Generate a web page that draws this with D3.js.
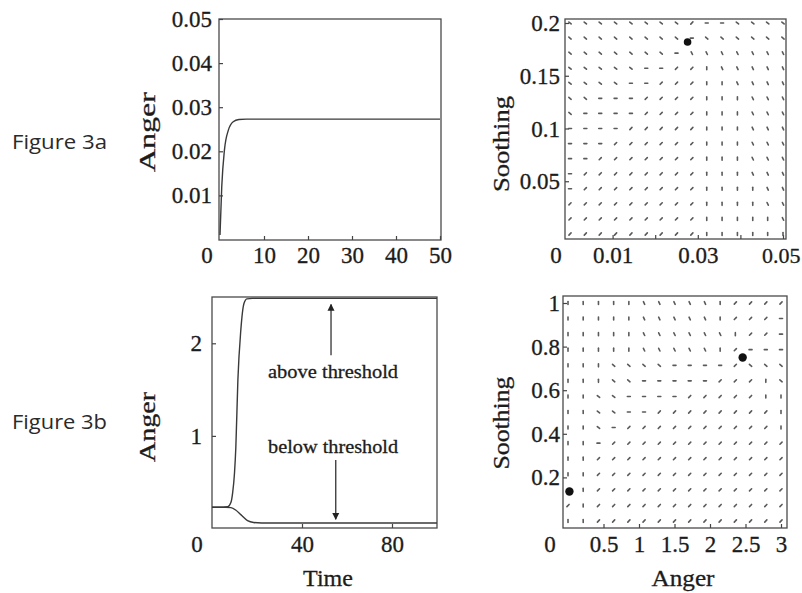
<!DOCTYPE html>
<html lang="en">
<head>
    <meta charset="UTF-8">
    <title>Figure 3</title>
    <script src="https://d3js.org/d3.v7.min.js"></script>
    <style>
        body { margin: 0; background: #fff; }
        svg text { fill: #1c1c1c; }
        .serif, .serif text { font-family: "Liberation Serif", "Times New Roman", Times, serif; stroke: #1c1c1c; stroke-width: 0.3px; }
        .fig { font-family: "Open Sans", "Noto Sans", sans-serif; fill: #2a2a2a; }
    </style>
</head>
<body>
    <div id="chart"></div>
    <script>
        // ---- data ----
        const timeA = [0, 0.4, 1.0, 1.9, 3.0, 4.3, 6, 50];
        const angerA = [0.001, 0.012, 0.0202, 0.0248, 0.0267, 0.0272, 0.0273, 0.0273];

        const timeAbove = [0, 5, 7, 8.4, 9.2, 10, 10.6, 11.5, 12.8, 14.2, 15.5, 18, 100];
        const angerAbove = [0.23, 0.23, 0.235, 0.28, 0.39, 0.6, 0.88, 1.6, 2.14, 2.43, 2.48, 2.485, 2.485];
        const timeBelow = [0, 6, 8.4, 10.5, 12.8, 15.8, 18.5, 22, 100];
        const angerBelow = [0.23, 0.23, 0.225, 0.2, 0.15, 0.085, 0.065, 0.06, 0.06];

        // grid of the direction fields
        const gridAngerB = [0, 0.0036, 0.0071, 0.0107, 0.0143, 0.0179, 0.0214, 0.025, 0.0286, 0.0321, 0.0357, 0.0393, 0.0429, 0.0464, 0.05];
        const gridSoothB = [0.2, 0.1857, 0.1714, 0.1571, 0.1429, 0.1286, 0.1143, 0.1, 0.0857, 0.0714, 0.0571, 0.0429, 0.0286, 0.0143, 0];
        const gridAngerD = [0, 0.214, 0.429, 0.643, 0.857, 1.071, 1.286, 1.5, 1.714, 1.929, 2.143, 2.357, 2.571, 2.786, 3];
        const gridSoothD = [1, 0.929, 0.857, 0.786, 0.714, 0.643, 0.571, 0.5, 0.429, 0.357, 0.286, 0.214, 0.143, 0.071, 0];

        // h = flat, d = down-right, s = steep down-right, v = vertical, u = up-right, . = none
        const fieldB = [
            "dddddddduhhdddd",
            "ddddddddhdddddd",
            "dddddddhsssssss",
            "dddddhhuuvsssss",
            "ddddhhuuuvvssss",
            "ddhhhuuuuvvvsss",
            "dhhhhuuuuvvvsss",
            "hhhhuuuuuvvvsss",
            "hhhuuuuuuvvvsss",
            "hhuuuuuuuvvvsss",
            "huuuuuuuuvvvsss",
            "huuuuuuuuvvvvss",
            "uuuuuuuuuvvvvss",
            "uuuuuuuuuvvvvvs",
            "uuuuuuuuuvvvvvv"
        ];
        const fieldD = [
            "vvvvvsssssvuuuu",
            "vvvvvsssssvuuuh",
            "vvvvvssssssvuuh",
            "vvvvvsssssvuhhh",
            "vvvddddhhhhuddd",
            "vvvddhhhhhuuuvd",
            "vvddhhhhuuuuuvv",
            "vvddhhuuuuuuuuv",
            "vvdhuuuuuuuuuuv",
            "vvhuuuuuuuuuuuu",
            "vvuuuuuuuuuuuuu",
            "vvuuuuuuuuuuuuu",
            ".vuuuuuuuuuuuuu",
            "uvuuuuuuuuuuuuu",
            "vvuuuuuuuuuuuuu"
        ];

        const fixedB = [[0.0276, 0.182]];
        const fixedD = [[2.46, 0.75], [0.02, 0.135]];

        const ticksAx = [10, 20, 30, 40, 50];
        const ticksAy = [0.01, 0.02, 0.03, 0.04, 0.05];
        const ticksBx = [0.01, 0.02, 0.03, 0.04, 0.05];
        const labelsBx = [0.01, 0.03, 0.05];
        const ticksBy = [0.05, 0.1, 0.15, 0.2];
        const ticksCx = [40, 80];
        const ticksCy = [1, 2];
        const ticksDx = [0.5, 1, 1.5, 2, 2.5, 3];
        const ticksDy = [0.2, 0.4, 0.6, 0.8, 1];

        const svg = d3.select("#chart")
            .append("svg")
            .attr("width", 802)
            .attr("height", 593);

        const angles = { h: 0, d: 40, s: 65, v: 90, u: -45 };

        // ---- scales ----
        const xA = d3.scaleLinear().domain([0, 50]).range([220, 440]);
        const yA = d3.scaleLinear().domain([0, 0.05]).range([239.5, 19]);
        const xB = d3.scaleLinear().domain([0, 0.05]).range([570, 783]);
        const yB = d3.scaleLinear().domain([0, 0.2]).range([234, 23]);
        const xC = d3.scaleLinear().domain([0, 100]).range([212, 437]);
        const yC = d3.scaleLinear().domain([0, 2.5]).range([528.5, 297]);
        const xD = d3.scaleLinear().domain([0, 3]).range([568, 781]);
        const yD = d3.scaleLinear().domain([0, 1]).range([521, 303]);

        function frame(x0, y0, x1, y1) {
            svg.append("rect")
                .attr("x", x0).attr("y", y0)
                .attr("width", x1 - x0).attr("height", y1 - y0)
                .attr("fill", "none")
                .attr("stroke", "#4a4a4a")
                .attr("stroke-width", 1.3);
        }

        function axes(x, y, xt, yt, xpos, ypos, padY, fmtX, xBase) {
            const gx = svg.append("g")
                .attr("transform", "translate(0," + ypos + ")")
                .call(d3.axisBottom(x).tickValues(xt).tickSizeInner(-4).tickSizeOuter(0)
                    .tickPadding(0).tickFormat(fmtX || (d => d)))
                .attr("font-family", null)
                .attr("class", "serif");
            gx.select(".domain").remove();
            gx.selectAll("line").attr("stroke", "#444").attr("stroke-width", 1.2);
            gx.selectAll("text").attr("font-size", 23).attr("y", xBase - ypos).attr("dy", 0);

            const gy = svg.append("g")
                .attr("transform", "translate(" + xpos + ",0)")
                .call(d3.axisLeft(y).tickValues(yt).tickSizeInner(-4).tickSizeOuter(0)
                    .tickPadding(padY).tickFormat(d => d))
                .attr("font-family", null)
                .attr("class", "serif");
            gy.select(".domain").remove();
            gy.selectAll("line").attr("stroke", "#444").attr("stroke-width", 1.2);
            gy.selectAll("text").attr("font-size", 23).attr("dy", "0.33em");
            return gx;
        }

        function plainText(txt, x, y, size, opts) {
            const t = svg.append("text")
                .attr("class", "serif")
                .attr("x", x).attr("y", y)
                .attr("font-size", size)
                .attr("text-anchor", "middle")
                .text(txt);
            if (opts && opts.len) t.attr("textLength", opts.len).attr("lengthAdjust", "spacingAndGlyphs");
            if (opts && opts.rotate) t.attr("transform", "rotate(-90," + x + "," + y + ")");
            return t;
        }

        function field(rows, gx, gy, x, y) {
            rows.forEach((row, i) => {
                row.split("").forEach((c, j) => {
                    if (c === ".") return;
                    const a = angles[c] * Math.PI / 180;
                    const cx = x(gx[j]), cy = y(gy[i]);
                    const dx = Math.cos(a) * 1.5, dy = Math.sin(a) * 1.5;
                    svg.append("line")
                        .attr("x1", cx - dx).attr("y1", cy - dy)
                        .attr("x2", cx + dx).attr("y2", cy + dy)
                        .attr("stroke", "#5a5a5a")
                        .attr("stroke-width", 1.6)
                        .attr("stroke-linecap", "round");
                });
            });
        }

        // ---- figure 3a, time course ----
        frame(219, 19, 441, 240);
        axes(xA, yA, ticksAx, ticksAy, 219, 240, 7, null, 263);
        plainText("0", 207, 263, 23);
        svg.append("path")
            .datum(d3.zip(timeA, angerA))
            .attr("fill", "none")
            .attr("stroke", "#3a3a3a")
            .attr("stroke-width", 1.4)
            .attr("d", d3.line().x(d => xA(d[0])).y(d => yA(d[1])).curve(d3.curveMonotoneX));
        plainText("Anger", 155, 132, 24, { len: 80, rotate: true });

        // ---- figure 3a, phase plane ----
        frame(565, 19, 786, 239);
        const gxB = axes(xB, yB, ticksBx, ticksBy, 565, 239, 5, d => labelsBx.includes(d) ? d : "", 263);
        // last label sits against the right edge of the page
        gxB.selectAll("text")
            .filter(d => d === 0.05)
            .attr("font-size", 22)
            .attr("text-anchor", "end")
            .attr("x", 800 - xB(0.05));
        plainText("0", 556, 263, 23);
        field(fieldB, gridAngerB, gridSoothB, xB, yB);
        svg.selectAll(".fixB")
            .data(fixedB)
            .enter()
            .append("circle")
            .attr("cx", d => xB(d[0]))
            .attr("cy", d => yB(d[1]))
            .attr("r", 3.8)
            .attr("fill", "#111");
        plainText("Soothing", 509, 144, 24, { len: 96, rotate: true });

        // ---- figure 3b, time course ----
        frame(212, 297, 437, 528);
        axes(xC, yC, ticksCx, ticksCy, 212, 528, 10, null, 552);
        plainText("0", 197, 552, 23);
        [[timeAbove, angerAbove], [timeBelow, angerBelow]].forEach(s => {
            svg.append("path")
                .datum(d3.zip(s[0], s[1]))
                .attr("fill", "none")
                .attr("stroke", "#3a3a3a")
                .attr("stroke-width", 1.4)
                .attr("d", d3.line().x(d => xC(d[0])).y(d => yC(d[1])).curve(d3.curveMonotoneX));
        });
        svg.append("defs").append("marker")
            .attr("id", "head")
            .attr("viewBox", "0 0 10 10")
            .attr("refX", 9).attr("refY", 5)
            .attr("markerWidth", 7).attr("markerHeight", 9)
            .attr("markerUnits", "userSpaceOnUse")
            .attr("orient", "auto")
            .append("path")
            .attr("d", "M0,0 L10,5 L0,10 z")
            .attr("fill", "#222");
        svg.append("line")
            .attr("x1", xC(52.9)).attr("y1", yC(1.87))
            .attr("x2", xC(52.9)).attr("y2", yC(2.42))
            .attr("stroke", "#333").attr("stroke-width", 1.3)
            .attr("marker-end", "url(#head)");
        svg.append("line")
            .attr("x1", xC(55)).attr("y1", yC(0.74))
            .attr("x2", xC(55)).attr("y2", yC(0.1))
            .attr("stroke", "#333").attr("stroke-width", 1.3)
            .attr("marker-end", "url(#head)");
        plainText("above threshold", xC(53.8), yC(1.63), 19, { len: 130 });
        plainText("below threshold", xC(53.8), yC(0.81), 19, { len: 130 });
        plainText("Anger", 155, 427, 24, { len: 70, rotate: true });
        plainText("Time", 328, 586, 24);

        // ---- figure 3b, phase plane ----
        frame(563, 296, 787, 528);
        axes(xD, yD, ticksDx, ticksDy, 563, 528, 3, null, 552);
        plainText("0", 550, 552, 23);
        field(fieldD, gridAngerD, gridSoothD, xD, yD);
        svg.selectAll(".fixD")
            .data(fixedD)
            .enter()
            .append("circle")
            .attr("cx", d => xD(d[0]))
            .attr("cy", d => yD(d[1]))
            .attr("r", 4.2)
            .attr("fill", "#111");
        plainText("Soothing", 509, 423, 24, { len: 93, rotate: true });
        plainText("Anger", 683, 586, 24, { len: 63 });

        // ---- panel captions ----
        svg.append("text").attr("class", "fig").attr("x", 12).attr("y", 149)
            .attr("font-size", 20).attr("textLength", 95).attr("lengthAdjust", "spacingAndGlyphs")
            .text("Figure 3a");
        svg.append("text").attr("class", "fig").attr("x", 12).attr("y", 429)
            .attr("font-size", 20).attr("textLength", 95).attr("lengthAdjust", "spacingAndGlyphs")
            .text("Figure 3b");
    </script>
</body>
</html>
